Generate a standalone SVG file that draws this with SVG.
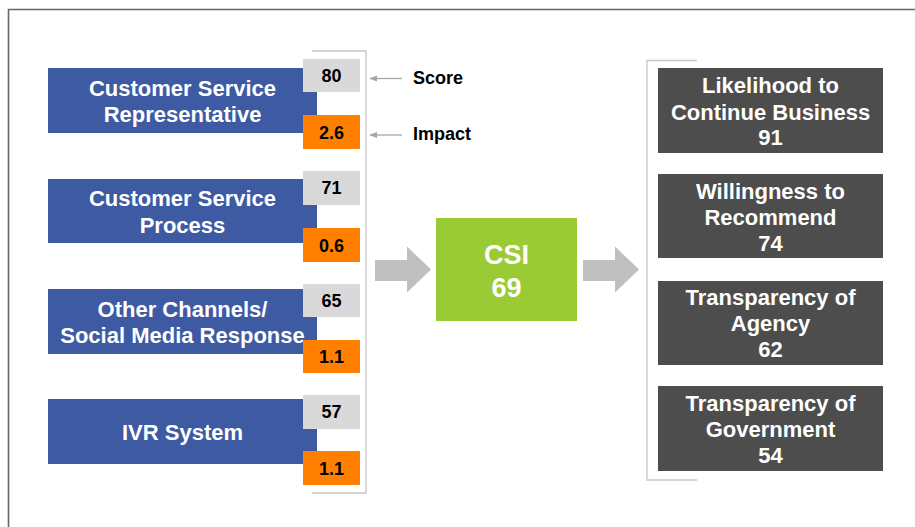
<svg xmlns="http://www.w3.org/2000/svg" width="915" height="527" viewBox="0 0 915 527">
  <defs>
    <style>
      text { font-family: "Liberation Sans", Arial, sans-serif; font-weight: bold; text-anchor: middle; }
      .driver { fill: #3d5aa2; }
      .score { fill: #d9d9d9; }
      .impact { fill: #ff8000; }
      .outcome { fill: #4d4d4d; }
      .lbl { fill: #ffffff; font-size: 22px; }
      .num { fill: #000000; font-size: 18px; }
      .bracket { fill: none; stroke: #c6c6c6; stroke-width: 1.3; }
      .block { fill: #bfbfbf; }
      .pointer { stroke: #a6a6a6; stroke-width: 1.3; fill: none; }
    </style>
    <marker id="tip" viewBox="0 0 10 10" refX="9" refY="5" markerWidth="8" markerHeight="8" orient="auto-start-reverse" markerUnits="userSpaceOnUse">
      <path d="M0,1 L10,5 L0,9 Z" fill="#a6a6a6"/>
    </marker>
  </defs>

  <rect width="915" height="527" fill="#ffffff"/>

  <!-- outer frame -->
  <path d="M8.5,527 V9.5 H915" fill="none" stroke="#666666" stroke-width="1.6"/>

  <!-- brackets -->
  <path class="bracket" d="M312,51 H366 V493 H312"/>
  <path class="bracket" d="M697,60.5 H647 V480 H697"/>

  <!-- drivers -->
  <g id="driver-csr">
    <rect class="driver" x="48" y="68" width="269" height="65"/>
    <text class="lbl" x="182.5" y="96">Customer Service</text>
    <text class="lbl" x="182.5" y="122">Representative</text>
    <rect class="score" x="303" y="59" width="57" height="33"/>
    <text class="num" x="331.5" y="82">80</text>
    <rect class="impact" x="303" y="115" width="57" height="34"/>
    <text class="num" x="331.5" y="138.5">2.6</text>
  </g>

  <g id="driver-process">
    <rect class="driver" x="48" y="179" width="269" height="64"/>
    <text class="lbl" x="182.5" y="206">Customer Service</text>
    <text class="lbl" x="182.5" y="233">Process</text>
    <rect class="score" x="303" y="171" width="57" height="34"/>
    <text class="num" x="331.5" y="194">71</text>
    <rect class="impact" x="303" y="228" width="57" height="34"/>
    <text class="num" x="331.5" y="251.5">0.6</text>
  </g>

  <g id="driver-channels">
    <rect class="driver" x="48" y="289" width="269" height="65"/>
    <text class="lbl" x="182.5" y="316.5">Other Channels/</text>
    <text class="lbl" x="182.5" y="343">Social Media Response</text>
    <rect class="score" x="303" y="284" width="57" height="33"/>
    <text class="num" x="331.5" y="307">65</text>
    <rect class="impact" x="303" y="340" width="57" height="33"/>
    <text class="num" x="331.5" y="363">1.1</text>
  </g>

  <g id="driver-ivr">
    <rect class="driver" x="48" y="399" width="269" height="65"/>
    <text class="lbl" x="182.5" y="439.5">IVR System</text>
    <rect class="score" x="303" y="395" width="57" height="34"/>
    <text class="num" x="331.5" y="418">57</text>
    <rect class="impact" x="303" y="451" width="57" height="34"/>
    <text class="num" x="331.5" y="474.5">1.1</text>
  </g>

  <!-- legend -->
  <g id="legend">
    <text class="num" x="413" y="84" style="text-anchor:start">Score</text>
    <text class="num" x="413" y="140" style="text-anchor:start">Impact</text>
  </g>

  <!-- CSI -->
  <g id="csi">
    <rect x="436" y="218" width="141" height="103" fill="#9bcb34"/>
    <text x="506.5" y="264" fill="#ffffff" font-size="27">CSI</text>
    <text x="506.5" y="297" fill="#ffffff" font-size="27">69</text>
  </g>

  <!-- outcomes -->
  <g id="outcome-continue">
    <rect class="outcome" x="658" y="68" width="225" height="85"/>
    <text class="lbl" x="770.5" y="93">Likelihood to</text>
    <text class="lbl" x="770.5" y="119.5">Continue Business</text>
    <text class="lbl" x="770.5" y="145">91</text>
  </g>
  <g id="outcome-recommend">
    <rect class="outcome" x="658" y="174" width="225" height="84"/>
    <text class="lbl" x="770.5" y="198.5">Willingness to</text>
    <text class="lbl" x="770.5" y="225">Recommend</text>
    <text class="lbl" x="770.5" y="250.5">74</text>
  </g>
  <g id="outcome-agency">
    <rect class="outcome" x="658" y="281" width="225" height="84"/>
    <text class="lbl" x="770.5" y="305">Transparency of</text>
    <text class="lbl" x="770.5" y="331">Agency</text>
    <text class="lbl" x="770.5" y="357">62</text>
  </g>
  <g id="outcome-government">
    <rect class="outcome" x="658" y="386" width="225" height="85"/>
    <text class="lbl" x="770.5" y="411">Transparency of</text>
    <text class="lbl" x="770.5" y="437">Government</text>
    <text class="lbl" x="770.5" y="463">54</text>
  </g>

  <!-- connectors -->
  <g id="connectors">
    <line class="pointer" x1="402" y1="78.5" x2="370" y2="78.5" marker-end="url(#tip)"/>
    <line class="pointer" x1="402" y1="135" x2="370" y2="135" marker-end="url(#tip)"/>
    <path class="block" d="M375,260 H407 V246.5 L431,269.5 L407,292.5 V281 H375 Z"/>
    <path class="block" d="M583,260 H615 V246.5 L639,269.5 L615,292.5 V281 H583 Z"/>
  </g>
</svg>
